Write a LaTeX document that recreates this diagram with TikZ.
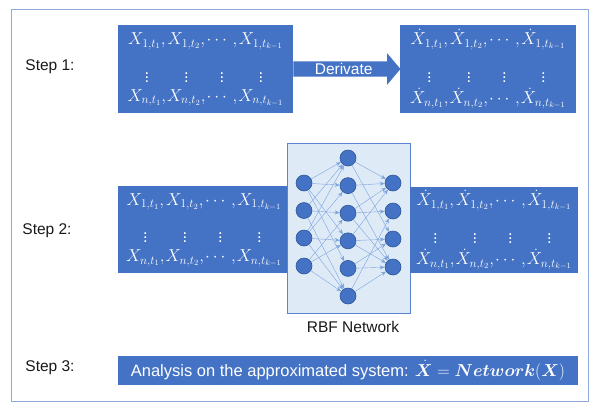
\documentclass[tikz,border=0pt]{standalone}
\usepackage[no-math]{fontspec}
\setmainfont{Liberation Sans}
\usepackage{amsmath,bm}
\usetikzlibrary{%
  arrows.meta,%
  shapes.arrows,%
  positioning
}
\definecolor{boxblue}{HTML}{4472C4}
\definecolor{neurondraw}{HTML}{2F5597}
\definecolor{netfill}{HTML}{DEEBF7}
\definecolor{netdraw}{HTML}{5B84D0}
\definecolor{edgeblue}{HTML}{7EA3DE}
\definecolor{framecol}{HTML}{8FAADC}

% rows of samples, with the vertical dots under each column
\newcommand{\samplerows}[1]{%
  $\begin{array}{@{}c@{\hspace{1pt}}c@{\hspace{1pt}}c@{\hspace{1pt}}c@{}}
    #1_{1,t_1}, & #1_{1,t_2}, & \cdots, & #1_{1,t_{k-1}}\\[16pt]
    \vdots & \vdots & \vdots & \vdots\\[0pt]
    #1_{n,t_1}, & #1_{n,t_2}, & \cdots, & #1_{n,t_{k-1}}
  \end{array}$}

\begin{document}
\begin{tikzpicture}[x=1pt,y=-1pt,
    databox/.style={fill=boxblue, text=white, inner sep=0pt,
      font=\fontsize{16.5}{19}\selectfont},
    steplabel/.style={font=\fontsize{15.5}{18}\selectfont, text=black!90},
    neuron/.style={circle, fill=boxblue, draw=neurondraw, line width=0.6pt,
      minimum size=16pt, inner sep=0pt},
    edge/.style={draw=edgeblue, line width=0.4pt,
      -{Stealth[length=5pt,width=4pt]}}
  ]
  \useasboundingbox (0,0) rectangle (599,408);
  \draw [framecol, line width=0.8pt] (11,9) rectangle (588,401);

  % step 1
  \node [steplabel] (step1) at (50,67) {Step 1:};
  \node [databox, minimum width=175pt, minimum height=88pt] (s1in) at (205.5,69) {\samplerows{X}};
  \node [databox, minimum width=176pt, minimum height=88pt] (s1out) at (488,69) {\samplerows{\dot{X}}};
  \node [single arrow, fill=boxblue, text=white, anchor=tail,
    minimum height=107pt, single arrow head extend=8pt, single arrow tip angle=100,
    inner xsep=0pt, inner ysep=2pt, text height=11pt, text depth=0pt,
    font=\fontsize{15.5}{18}\selectfont] (derive) at (s1in.east) {Derivate};

  % step 2
  \node [steplabel] (step2) at (47,231) {Step 2:};
  \node [databox, minimum width=172pt, minimum height=87pt] (s2in) at (204,229.5) {\samplerows{X}};
  \node [draw=netdraw, fill=netfill, line width=0.8pt,
    minimum width=123pt, minimum height=170pt] (net) at (348.5,228) {};
  \node [databox, minimum width=168pt, minimum height=86pt] (s2out) at (494,230) {\samplerows{\dot{X}}};
  \node [steplabel] (netlabel) at (353,327) {RBF Network};

  \foreach \i/\y in {1/183,2/210.5,3/238,4/266}
    \node [neuron] (in\i) at (304,\y) {};
  \foreach \i in {1,...,6}
    \node [neuron] (hid\i) at (348,{158+27.6*(\i-1)}) {};
  \foreach \i/\y in {1/183,2/211,3/239,4/267}
    \node [neuron] (out\i) at (393,\y) {};

  \foreach \i/\hs in {1/{1,2,4,5},2/{1,3,6},3/{1,2,4,6},4/{3,4,6}}
    \foreach \h in \hs
      \draw [edge] (in\i) -- (hid\h);
  \foreach \h/\os in {1/{1,3},2/{1,4},3/{1,2,4},4/{1,3,4},5/{3,4},6/{2,4}}
    \foreach \o in \os
      \draw [edge] (hid\h) -- (out\o);

  % step 3
  \node [steplabel] (step3) at (50,368) {Step 3:};
  \node [databox, minimum width=460pt, minimum height=29pt,
    font=\fontsize{16.5}{19}\selectfont] (s3) at (348,370.5)
    {Analysis on the approximated system: $\dot{\bm{X}} = \bm{Network}(\bm{X})$};
\end{tikzpicture}
\end{document}
